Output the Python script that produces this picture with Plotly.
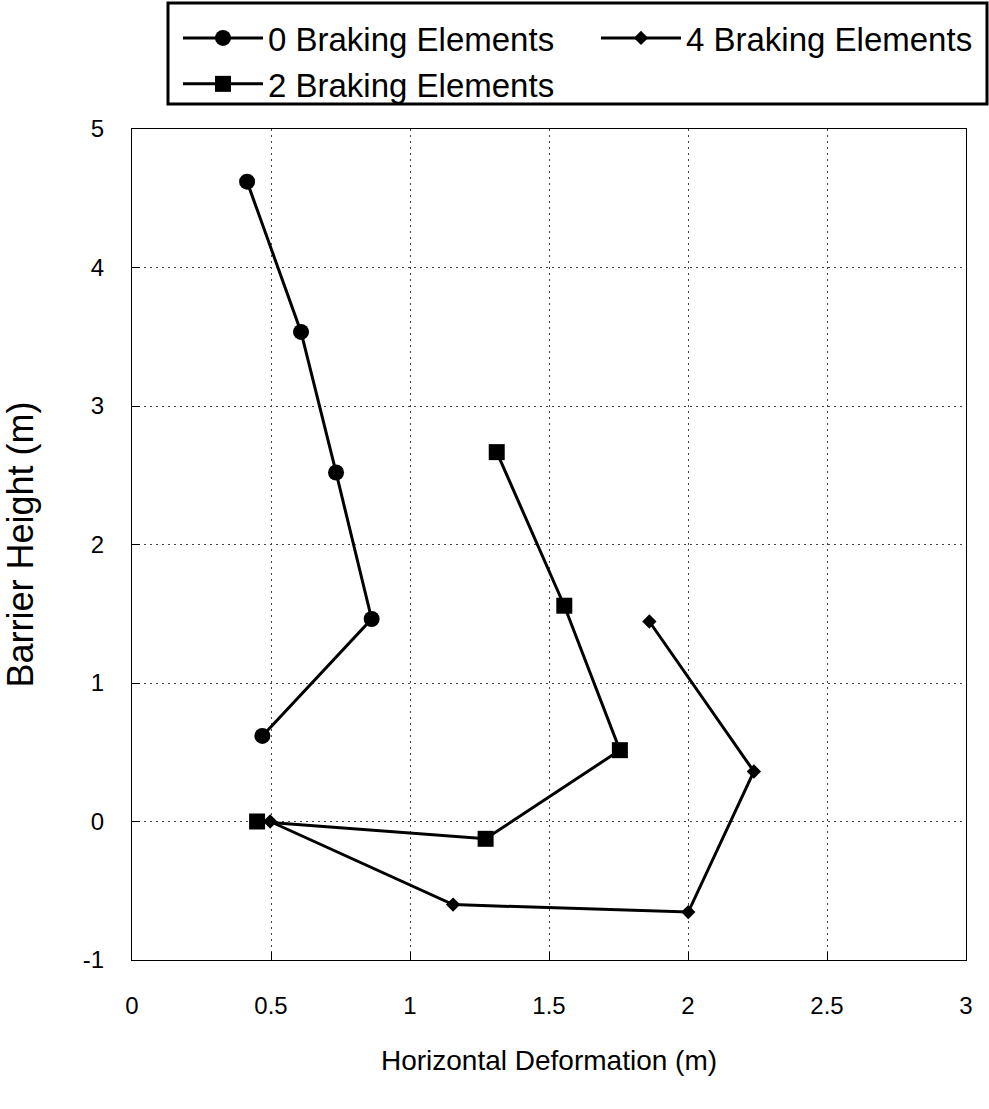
import plotly.graph_objects as go

# Data
x_b0 = [0.414, 0.608, 0.734, 0.862, 0.469]
y_b0 = [4.62, 3.535, 2.52, 1.462, 0.618]

x_b2 = [1.312, 1.555, 1.755, 1.272, 0.45]
y_b2 = [2.667, 1.558, 0.515, -0.125, 0.0]

x_b4 = [1.861, 2.237, 2.001, 1.155, 0.497]
y_b4 = [1.444, 0.361, -0.654, -0.60, 0.0]

names = ["0 Braking Elements", "2 Braking Elements", "4 Braking Elements"]
x_ticks = [0, 0.5, 1, 1.5, 2, 2.5, 3]
x_tick_labels = ["0", "0.5", "1", "1.5", "2", "2.5", "3"]
y_ticks = [-1, 0, 1, 2, 3, 4, 5]
y_tick_labels = ["-1", "0", "1", "2", "3", "4", "5"]

W, H = 989, 1109
ML, MR, MT, MB = 132, 23, 129, 149
PW = W - ML - MR
PH = H - MT - MB

def px2x(px):
    return (px - ML) / PW

def py2y(py):
    return (H - MB - py) / PH

FONT = "Liberation Sans, Arial, sans-serif"

fig = go.Figure()
fig.add_trace(go.Scatter(x=x_b0, y=y_b0, mode="lines+markers", name=names[0],
                         line=dict(color="black", width=3),
                         marker=dict(symbol="circle", size=16, color="black"),
                         legend="legend"))
fig.add_trace(go.Scatter(x=x_b2, y=y_b2, mode="lines+markers", name=names[1],
                         line=dict(color="black", width=3),
                         marker=dict(symbol="square", size=16, color="black"),
                         legend="legend"))
fig.add_trace(go.Scatter(x=x_b4, y=y_b4, mode="lines+markers", name=names[2],
                         line=dict(color="black", width=3),
                         marker=dict(symbol="diamond", size=11, color="black"),
                         legend="legend2"))

axis_common = dict(
    showline=True, linecolor="black", linewidth=1, mirror=True,
    showgrid=True, gridcolor="#444", gridwidth=1, griddash="2px,4px",
    ticks="inside", ticklen=8, tickcolor="black", tickwidth=1,
    zeroline=False,
    tickfont=dict(family=FONT, size=24, color="black"),
)

fig.update_xaxes(range=[0, 3], tickvals=x_ticks, ticktext=x_tick_labels,
                 title_text="Horizontal Deformation (m)", title_standoff=32,
                 title_font=dict(family=FONT, size=28, color="black"),
                 ticklabelstandoff=24, **axis_common)
fig.update_yaxes(range=[-1, 5], tickvals=y_ticks, ticktext=y_tick_labels,
                 title_text="Barrier Height (m)", title_standoff=40,
                 title_font=dict(family=FONT, size=36, color="black"),
                 ticklabelstandoff=22, **axis_common)

legend_common = dict(font=dict(family=FONT, size=33, color="black"),
                     bgcolor="rgba(0,0,0,0)", borderwidth=0,
                     itemwidth=80, tracegroupgap=0,
                     xanchor="left", yanchor="top", orientation="v")

fig.update_layout(
    width=W, height=H,
    margin=dict(l=ML, r=MR, t=MT, b=MB, autoexpand=False),
    paper_bgcolor="white", plot_bgcolor="white",
    legend=dict(x=px2x(178), y=py2y(10), **legend_common),
    legend2=dict(x=px2x(596), y=py2y(10), **legend_common),
    shapes=[dict(type="rect", xref="paper", yref="paper",
                 x0=px2x(168), x1=px2x(987), y0=py2y(104), y1=py2y(3),
                 line=dict(color="black", width=3), fillcolor="rgba(0,0,0,0)")],
)

fig.write_html("out.html")
